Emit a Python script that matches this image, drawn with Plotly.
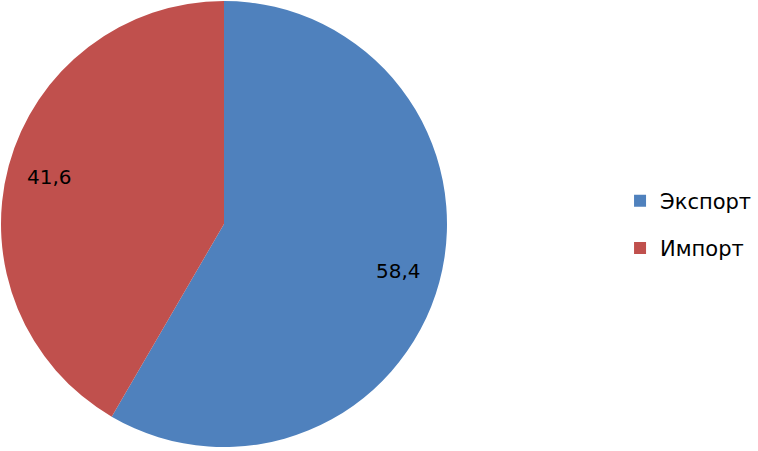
import math
import plotly.graph_objects as go

categories = ["Экспорт", "Импорт"]
values = [58.4, 41.6]
value_labels = ["58,4", "41,6"]
colors = ["#4F81BD", "#C0504D"]

W, H = 758, 451
dom_x = [1 / W, 447 / W]
dom_y = [1 - 447 / H, 1 - 1 / H]
FONT = "DejaVu Sans"

fig = go.Figure()
fig.add_trace(go.Pie(
    labels=categories,
    values=values,
    textinfo="none",
    sort=False,
    direction="clockwise",
    rotation=0,
    marker=dict(colors=colors, line=dict(width=0)),
    domain=dict(x=dom_x, y=dom_y),
    hoverinfo="label+value",
    showlegend=False,
))

# legend entries (square swatches)
for i, (name, col) in enumerate(zip(categories, colors)):
    fig.add_trace(go.Scatter(
        x=[None], y=[None], mode="markers", name=name,
        marker=dict(symbol="square", size=12, color=col),
        legendgroup="g%d" % i, showlegend=True, hoverinfo="skip",
    ))

# value labels placed at slice mid-angles
cx = (dom_x[0] + dom_x[1]) / 2
cy = (dom_y[0] + dom_y[1]) / 2
R = min((dom_x[1] - dom_x[0]) * W, (dom_y[1] - dom_y[0]) * H) / 2
total = sum(values)
cum = 0.0
annotations = []
for v, lab in zip(values, value_labels):
    mid = (cum + v / 2) / total * 2 * math.pi
    cum += v
    r = 0.81 * R
    annotations.append(dict(
        x=cx + r * math.sin(mid) / W,
        y=cy + r * math.cos(mid) / H,
        xref="paper", yref="paper", text=lab, showarrow=False,
        font=dict(family=FONT, size=20, color="#000000"),
        xanchor="center", yanchor="middle",
    ))

fig.update_layout(
    width=W, height=H,
    margin=dict(l=0, r=0, t=0, b=0),
    paper_bgcolor="white",
    plot_bgcolor="white",
    showlegend=True,
    annotations=annotations,
    xaxis=dict(visible=False),
    yaxis=dict(visible=False),
    legend=dict(
        x=0.818, y=0.502, xanchor="left", yanchor="middle",
        font=dict(family=FONT, size=21, color="#000000"),
        tracegroupgap=17,
        bgcolor="rgba(0,0,0,0)",
    ),
)

fig.write_html("out.html", config={"displayModeBar": False},
               post_script="document.body.style.margin='0';")
